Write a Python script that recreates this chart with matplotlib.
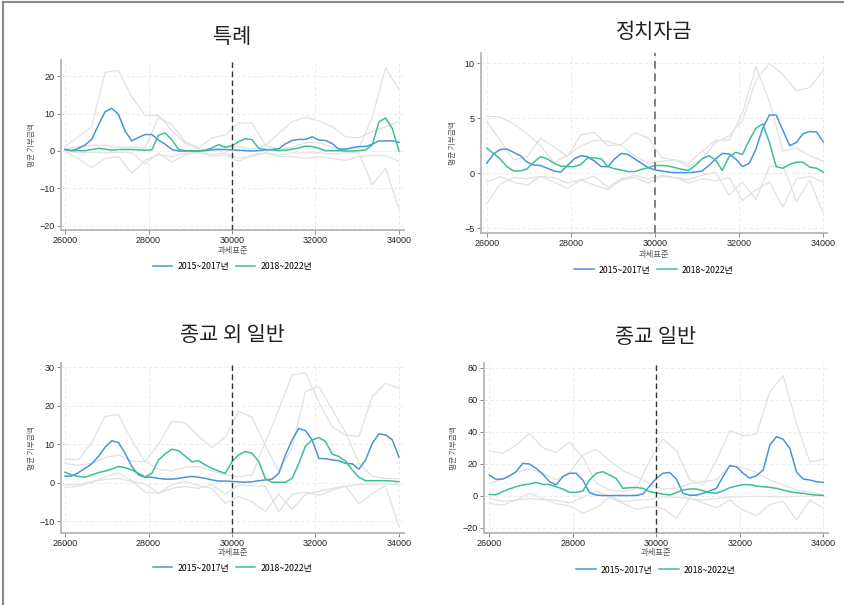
#평균 기부금액 by 과세표준, 4 panels (특례 / 정치자금 / 종교 외 일반 / 종교 일반)
import numpy as np
import matplotlib
matplotlib.use('Agg')
import matplotlib.pyplot as plt
from matplotlib.lines import Line2D

plt.rcParams['font.family'] = ['Noto Sans CJK KR', 'DejaVu Sans']

# x grids: main lines every 160, CI lines every 320
x_main = np.arange(26000, 34001, 160)
x_band = np.arange(26000, 34001, 320)

#---- 특례
blue_1 = [0.4,0.1,0.7,1.6,3.1,6.9,10.5,11.4,9.8,5.3, 2.7,3.6,4.4,4.4,2.9,1.8,0.4,0.0,0.0,0.0,
          0.0,0.1,0.3,0.4,0.4,
          0.3,0.2,0.1,0.0,0.1,0.3,0.4,0.6,1.9,2.8, 3.1,3.1,3.8,2.9,2.8,2.0,0.5,0.5,0.9,1.2,
          1.2,1.8,2.7,2.7,2.7,2.3]
green_1 = [0.4,0.1,0.1,0.1,0.4,0.7,0.5,0.2,0.4,0.4, 0.4,0.3,0.2,0.3,4.2,4.8,3.0,0.4,0.1,0.0,
           0.0,0.2,0.8,1.7,1.0,
           1.4,2.5,3.3,3.0,0.7,0.4,0.3,0.1,0.2,0.5, 0.8,1.3,1.2,0.7,0.1,0.1,0.1,0.0,0.0,0.1,
           0.3,1.6,7.8,8.8,6.0,0.0]
band_1 = [
    [1.2,3.8,6.5,21,21.5,14.5,9.5,9.5,5.5,2.0,0.5,0.5,1.0,1.2,0.5,1.5,4.7,7.8,9.0,8.0,6.5,3.8,3.5,5.2,6.5,7.8],
    [0.5,1.2,1.5,1.5,1.0,1.0,0.8,9.0,7.0,2.5,0.8,3.5,4.3,7.5,7.5,1.5,0.5,1.0,2.2,2.2,1.0,0.5,0.8,9.0,22.2,16.3],
    [0.0,-2.0,-4.5,-2.0,-1.5,-6.0,-2.5,-1.0,-1.5,-0.5,-0.5,-1.0,-0.5,-2.0,-1.5,-0.5,-1.5,-1.5,-2.0,-1.5,-2.0,-2.5,-1.5,-1.2,-1.2,-2.8],
    [0.0,-0.5,-0.3,-0.5,-0.3,-0.5,-3.5,-0.5,-3.0,-1.0,-0.3,-1.5,-1.0,-2.8,-1.0,-0.5,-1.0,-0.5,-0.5,-0.5,-0.8,-0.5,-0.5,-9.0,-4.6,-15.5],
]

#---- 정치자금
blue_2 = [0.9,1.75,2.15,2.2,1.9,1.6,1.0,0.75,0.7,0.45, 0.2,0.1,0.7,1.3,1.6,1.5,1.1,0.6,0.6,1.3,
          1.8,1.7,1.3,0.9,0.5,
          0.3,0.2,0.1,0.05,0.05,0.05,0.1,0.2,0.7,1.3, 1.8,1.75,1.3,0.6,0.9,2.2,4.1,5.3,5.3,3.9,
          2.5,2.8,3.6,3.8,3.75,2.85]
green_2 = [2.3,1.8,1.3,0.6,0.2,0.2,0.4,1.0,1.5,1.3, 0.9,0.65,0.6,0.6,0.8,1.4,1.4,1.3,0.6,0.4,
           0.3,0.15,0.15,0.35,0.5,
           0.7,0.7,0.65,0.5,0.35,0.25,0.7,1.3,1.6,1.2, 0.25,1.5,1.9,1.7,3.0,4.1,4.5,2.8,0.6,0.45,
           0.8,1.0,1.0,0.55,0.45,0.1]
band_2 = [
    [5.2,5.1,4.5,3.6,2.5,1.0,1.6,2.5,3.0,2.9,2.5,1.6,0.9,1.1,1.2,0.9,2.0,3.0,3.0,5.5,9.7,6.5,2.0,2.3,1.6,1.1],
    [4.7,3.0,1.2,1.5,3.2,2.4,1.5,3.5,3.7,2.5,2.6,3.7,3.2,1.4,1.2,0.6,1.3,2.8,3.4,4.8,8.5,10.0,9.0,7.5,7.8,9.4],
    [-2.8,-1.0,-0.4,-0.5,-0.3,-0.8,-1.4,-0.6,-0.3,-1.3,-0.5,-0.2,-0.5,-0.2,-0.4,-0.6,-0.2,0.1,-2.0,-0.8,-2.4,0.6,0.8,-2.6,-0.6,-3.7],
    [-0.8,-0.3,-0.8,-1.1,-0.3,-0.4,-0.9,-0.6,-1.1,-1.5,-0.6,-0.4,-0.9,-0.3,-0.4,-0.9,-0.5,-0.7,-0.4,-2.5,-1.5,-0.8,-3.1,-0.5,-0.3,-0.8],
]

#---- 종교 외 일반
blue_3 = [1.7,1.7,2.6,3.7,4.9,6.8,9.2,10.9,10.4,7.6, 4.2,2.0,1.4,1.4,1.1,0.9,0.9,1.1,1.4,1.6,
          1.4,1.1,0.7,0.4,0.4,
          0.3,0.2,0.1,0.2,0.5,0.7,0.9,2.4,7.2,11.1, 14.1,13.5,11.1,6.3,6.2,5.9,5.7,5.0,4.9,3.5,
          5.9,10.2,12.7,12.4,11.1,6.6]
green_3 = [2.7,2.0,1.6,1.4,2.0,2.6,3.0,3.5,4.2,3.9, 3.3,2.4,1.5,2.4,5.9,7.5,8.7,8.3,6.9,5.4,
           5.7,4.6,3.7,3.0,2.4,
           5.5,7.2,8.1,7.6,5.5,1.0,0.1,0.1,0.1,1.1, 5.0,9.5,11.1,11.7,10.7,7.4,6.8,5.6,3.3,1.4,
           0.5,0.5,0.5,0.5,0.4,0.2]
band_3 = [
    [6.1,5.9,10.5,17.2,17.7,11.0,5.5,3.5,3.0,4.0,4.2,3.0,2.0,1.5,2.0,10.5,19.0,28.0,28.5,21.0,14.5,12.3,12.0,22.4,25.8,24.5],
    [5.0,4.5,5.0,6.5,7.2,5.5,5.5,10.0,16.0,15.5,12.0,9.2,11.8,18.5,17.0,9.5,3.0,9.0,23.7,25.0,19.0,13.0,5.0,1.6,1.1,1.0],
    [-1.3,-0.9,0.0,1.5,2.5,0.5,-2.5,-2.8,-0.5,0.3,-0.8,-1.5,-5.4,-3.6,-5.0,-7.5,-3.0,-7.0,-3.0,-2.3,-1.5,-0.9,-0.5,-0.3,-0.3,-0.6],
    [-0.6,-0.5,0.3,0.8,1.1,0.3,-0.3,-2.8,-1.5,-1.0,-1.5,-0.5,-3.0,-0.6,-0.8,-1.0,-7.5,-3.0,-2.5,-3.3,-2.0,-0.9,-5.5,-2.8,-0.8,-11.5],
]

#---- 종교 일반
blue_4 = [12.9,10.2,10.4,12.3,15.0,20.2,19.8,17.1,13.5,8.8, 6.7,11.9,14.0,14.0,9.8,1.9,0.4,0.1,0.1,0.1,
          0.1,0.1,0.2,1.0,6.0,
          10.8,14.0,14.5,10.5,1.5,0.3,0.3,1.5,3.0,4.6, 12.0,18.8,18.1,14.0,11.0,12.5,16.0,31.7,36.9,35.2,
          29.6,14.6,10.4,9.8,8.75,8.3]
green_4 = [0.8,0.6,2.5,4.2,5.6,6.7,7.3,8.3,7.1,6.9, 5.6,4.2,2.1,2.1,2.9,9.8,14.0,15.0,12.9,10.8,
           4.6,5.0,5.2,4.6,2.5,
           1.7,1.0,0.4,1.9,3.5,4.2,4.2,3.1,1.9,1.5, 3.1,5.0,6.0,6.9,6.9,6.0,5.6,5.2,4.6,3.5,
           2.5,1.9,1.5,0.8,0.4,0.2]
band_4 = [
    [27.9,26.5,31.5,39.0,30.0,27.0,33.5,24.0,8.0,3.5,2.5,4.5,22.0,35.5,28.0,10.0,6.5,22.0,40.7,37.5,38.5,65.0,75.0,45.0,21.2,22.7],
    [7.7,10.3,14.5,16.8,14.0,10.0,14.5,25.5,29.0,22.0,15.5,12.0,7.5,4.0,4.6,7.5,8.75,10.0,18.5,17.5,14.5,9.8,6.7,3.5,2.5,0.4],
    [-4.8,-5.8,-2.7,1.5,-1.5,-5.0,-6.2,-11.0,-7.5,-1.0,-4.8,-8.5,-6.9,-8.0,-14.0,-1.5,-4.5,-7.5,-2.7,-9.0,-12.5,-5.5,-3.5,-15.2,-2.7,-7.9],
    [-1.7,-3.5,-2.8,-1.7,-2.5,-2.8,-4.5,-1.0,3.0,-0.5,-3.5,-2.8,-2.3,-0.6,-1.0,-1.7,-2.7,-1.7,-0.8,-0.6,-0.4,-0.6,-0.8,-0.5,-0.2,-0.2],
]

titles = ['특례', '정치자금', '종교 외 일반', '종교 일반']
yticks = [[-20, -10, 0, 10, 20], [-5, 0, 5, 10], [-10, 0, 10, 20, 30], [-20, 0, 20, 40, 60, 80]]
ylims = [(-21.1, 24.3), (-5.45, 10.95), (-13.1, 31.1), (-23.3, 82.9)]
xlims = [(25904, 34120), (25865, 34088), (25904, 34120), (25873, 34113)]
mains = [(blue_1, green_1), (blue_2, green_2), (blue_3, green_3), (blue_4, green_4)]
bands = [band_1, band_2, band_3, band_4]

# axes boxes in pixels: left, top, right, bottom
W, H = 845, 605
boxes = [(61, 60, 404, 230), (481, 53, 827, 233), (61, 363, 404, 533), (484, 363, 828, 533)]
title_y = [37, 32, 335, 337]
xlab_y = [250, 254, 553, 553]
leg_y = [267, 270, 568, 570]
ylab_x = [32, 453, 32, 454]
# the 30000 cut line is drawn lighter in the 정치자금 panel
cut_color = ['#333333', '#808080', '#333333', '#333333']
cut_lw = [1.0, 1.4, 1.0, 1.0]

BLUE = '#4a94dc'
GREEN = '#3dbf95'
GREY = '#e1e1e1'

fig = plt.figure(figsize=(8.45, 6.05), dpi=100)

for i in range(4):
    l, t, r, b = boxes[i]
    ax = fig.add_axes([l / W, 1 - b / H, (r - l) / W, (b - t) / H])
    for band in bands[i]:
        ax.plot(x_band, band, color=GREY, lw=0.9, zorder=1)
    blue, green = mains[i]
    h1, = ax.plot(x_main, blue, color=BLUE, lw=1.1, zorder=3, label='2015~2017년')
    h2, = ax.plot(x_main, green, color=GREEN, lw=1.1, zorder=3, label='2018~2022년')
    ax.axvline(30000, color=cut_color[i], lw=cut_lw[i], ls=(0, (4, 2.5)), zorder=4)

    ax.set_xlim(*xlims[i])
    ax.set_ylim(*ylims[i])
    ax.set_xticks([26000, 28000, 30000, 32000, 34000])
    ax.set_yticks(yticks[i])
    ax.grid(True, color='#e9e9e9', lw=0.6, ls=(0, (4, 3)), zorder=0)
    for s in ['top', 'right']:
        ax.spines[s].set_visible(False)
    for s in ['left', 'bottom']:
        ax.spines[s].set_color('#b5b5b5')
        ax.spines[s].set_linewidth(1.3)
    ax.tick_params(labelsize=6.5, length=3, width=0.7, color='#888888', pad=1.5, labelcolor='#222222')
    for lab in ax.get_xticklabels() + ax.get_yticklabels():
        lab.set_family('Liberation Sans')

    cx = ((l + r) / 2) / W
    fig.text(cx, 1 - title_y[i] / H, titles[i], ha='center', va='center', fontsize=15, color='#222222')
    fig.text(cx, 1 - xlab_y[i] / H, '과세표준', ha='center', va='center', fontsize=6, color='#555555')
    fig.text(ylab_x[i] / W, 1 - ((t + b) / 2) / H, '평균 기부금액', ha='center', va='center',
             rotation=90, fontsize=5.5, color='#555555')
    ax.legend(handles=[h1, h2], loc='center', bbox_to_anchor=(cx, 1 - leg_y[i] / H),
              bbox_transform=fig.transFigure, ncol=2, frameon=False, fontsize=6.3,
              handlelength=2.2, handletextpad=0.6, columnspacing=0.8)

# grey frame along top and left edges
fig.add_artist(Line2D([0.003, 0.003], [0, 0.997], transform=fig.transFigure, color='#888888', lw=1.5))
fig.add_artist(Line2D([0.003, 1], [0.997, 0.997], transform=fig.transFigure, color='#888888', lw=1.5))

fig.savefig('out.png', dpi=100)
